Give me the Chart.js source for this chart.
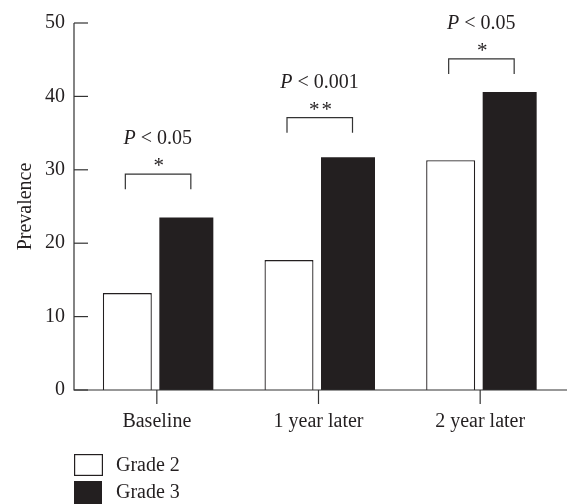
<!DOCTYPE html>
<html>
<head>
<meta charset="utf-8">
<script src="https://cdn.jsdelivr.net/npm/chart.js@4/dist/chart.umd.min.js"></script>
<style>
  html, body { margin: 0; padding: 0; background: #fff; }
  #wrap { width: 568px; height: 504px; position: relative; }
</style>
</head>
<body>
<div id="wrap"><canvas id="c" width="568" height="504"></canvas></div>
<script>
// ---- data ----
const categories = ['Baseline', '1 year later', '2 year later'];
const grade2 = [13.2, 17.7, 31.3];
const grade3 = [23.5, 31.7, 40.6];
const seriesNames = ['Grade 2', 'Grade 3'];
const yTicks = [0, 10, 20, 30, 40, 50];
const pValues = ['< 0.05', '< 0.001', '< 0.05'];
const stars = ['*', '**', '*'];
const bracketTops = [29.4, 37.1, 45.1];

const INK = '#231f20';
const FONT = '"Liberation Serif", "DejaVu Serif", serif';

const customDraw = {
  id: 'customDraw',
  afterDraw(chart) {
    const ctx = chart.ctx;
    const y = chart.scales.y, x = chart.scales.x;
    const area = chart.chartArea;
    const axisX = area.left - 2;
    ctx.save();
    ctx.strokeStyle = '#333';
    ctx.lineWidth = 1.2;
    // axes lines
    ctx.beginPath();
    ctx.moveTo(axisX, y.getPixelForValue(50));
    ctx.lineTo(axisX, y.getPixelForValue(0));
    ctx.lineTo(chart.width - 1, y.getPixelForValue(0));
    ctx.stroke();
    // y ticks (inward)
    yTicks.forEach(v => {
      const py = y.getPixelForValue(v);
      ctx.beginPath();
      ctx.moveTo(axisX, py);
      ctx.lineTo(axisX + 14, py);
      ctx.stroke();
    });
    // x ticks (downward)
    categories.forEach((c, i) => {
      const px = x.getPixelForValue(i);
      const py = y.getPixelForValue(0);
      ctx.beginPath();
      ctx.moveTo(px, py);
      ctx.lineTo(px, py + 14);
      ctx.stroke();
    });
    // brackets & annotations
    ctx.fillStyle = INK;
    ctx.lineWidth = 1.2;
    categories.forEach((c, i) => {
      const cx = x.getPixelForValue(i);
      const top = y.getPixelForValue(bracketTops[i]);
      const l = cx - 31.5, r = cx + 34;
      ctx.beginPath();
      ctx.moveTo(l, top + 15);
      ctx.lineTo(l, top);
      ctx.lineTo(r, top);
      ctx.lineTo(r, top + 15);
      ctx.stroke();
      // stars
      ctx.font = '21px ' + FONT;
      ctx.textAlign = 'center';
      ctx.textBaseline = 'alphabetic';
      ctx.letterSpacing = '2px';
      const sw = ctx.measureText(stars[i]).width;
      ctx.textAlign = 'left';
      ctx.fillText(stars[i], cx + 2 - (sw - 2) / 2, top - 15 + 13);
      ctx.letterSpacing = '0px';
      // P label
      ctx.textBaseline = 'middle';
      ctx.textAlign = 'left';
      ctx.font = 'italic 20px ' + FONT;
      const wP = ctx.measureText('P').width;
      ctx.font = '20px ' + FONT;
      const rest = ' ' + pValues[i];
      const wR = ctx.measureText(rest).width;
      const start = cx + 1 - (wP + wR) / 2;
      const ty = top - 35;
      ctx.font = 'italic 20px ' + FONT;
      ctx.fillText('P', start, ty);
      ctx.font = '20px ' + FONT;
      ctx.fillText(rest, start + wP, ty);
    });
    // legend
    const ds = chart.data.datasets;
    const boxes = [[454, 22], [481, 23]];
    ds.forEach((d, i) => {
      const [by, bh] = boxes[i];
      ctx.fillStyle = d.backgroundColor;
      ctx.fillRect(axisX, by, 28, bh);
      if (d.borderWidth) {
        ctx.strokeStyle = d.borderColor;
        ctx.lineWidth = 1.2;
        ctx.strokeRect(axisX + 0.6, by + 0.6, 27.8, bh - 1.2);
      }
      ctx.fillStyle = INK;
      ctx.font = '20px ' + FONT;
      ctx.textAlign = 'left';
      ctx.textBaseline = 'middle';
      ctx.fillText(d.label, 116, by + bh / 2 + 0.5);
    });
    ctx.restore();
  }
};

new Chart(document.getElementById('c'), {
  type: 'bar',
  data: {
    labels: categories,
    datasets: [
      { label: seriesNames[0], data: grade2, backgroundColor: '#ffffff', borderColor: INK, borderWidth: 1.3,
        barPercentage: 0.83, categoryPercentage: 0.73 },
      { label: seriesNames[1], data: grade3, backgroundColor: INK, borderWidth: 0,
        barPercentage: 0.915, categoryPercentage: 0.73 }
    ]
  },
  options: {
    responsive: false,
    animation: false,
    devicePixelRatio: 1,
    layout: { padding: { top: 21, right: 7, bottom: 0, left: 0 } },
    plugins: { legend: { display: false }, tooltip: { enabled: false } },
    scales: {
      x: {
        grid: { display: false, drawTicks: false },
        border: { display: false },
        ticks: { color: INK, font: { family: FONT, size: 20 }, padding: 20, maxRotation: 0 },
        afterFit: s => { s.height = 114; }
      },
      y: {
        min: 0, max: 50,
        grid: { display: false, drawTicks: false },
        border: { display: false },
        afterBuildTicks: s => { s.ticks = yTicks.map(v => ({ value: v })); },
        ticks: { color: INK, font: { family: FONT, size: 20 }, padding: 11 },
        title: { display: true, text: 'Prevalence', color: INK, font: { family: FONT, size: 20 }, padding: { top: 14, bottom: 0 } },
        afterFit: s => { s.width = 76; }
      }
    }
  },
  plugins: [customDraw]
});
</script>
</body>
</html>
